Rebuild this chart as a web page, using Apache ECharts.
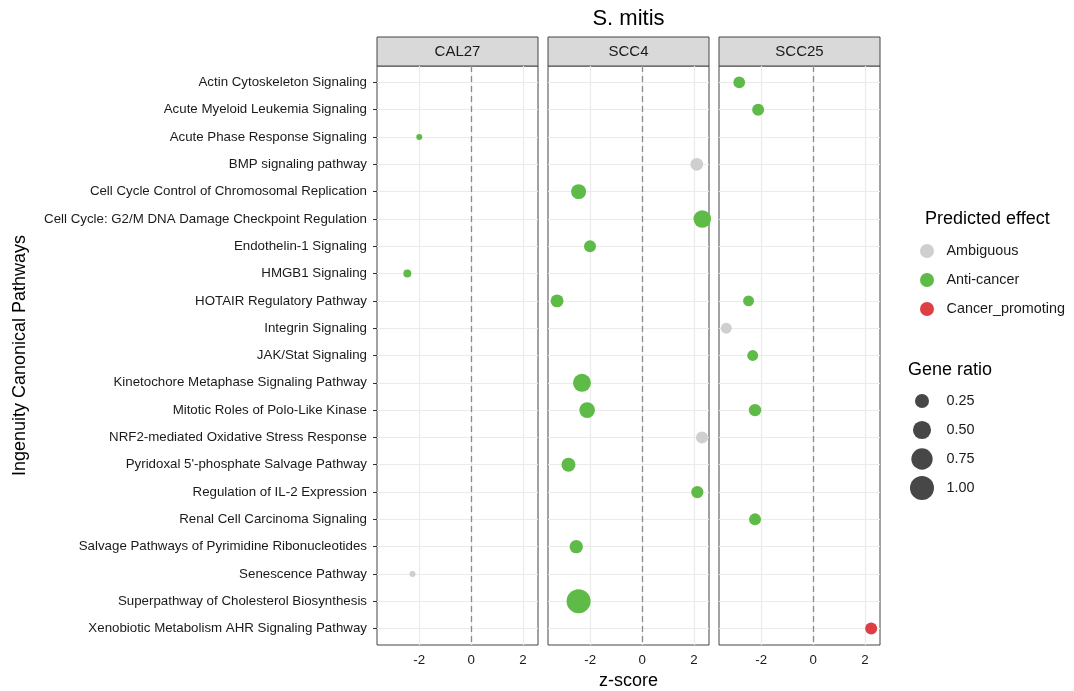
<!DOCTYPE html>
<html><head><meta charset="utf-8">
<script src="https://cdn.jsdelivr.net/npm/echarts@6/dist/echarts.min.js"></script>
<style>html,body{margin:0;padding:0;background:#fff}#c{width:1074px;height:691px}</style>
</head><body><div id="c"></div><script>
// ---------- data ----------
const pathways = [
  "Actin Cytoskeleton Signaling",
  "Acute Myeloid Leukemia Signaling",
  "Acute Phase Response Signaling",
  "BMP signaling pathway",
  "Cell Cycle Control of Chromosomal Replication",
  "Cell Cycle: G2/M DNA Damage Checkpoint Regulation",
  "Endothelin-1 Signaling",
  "HMGB1 Signaling",
  "HOTAIR Regulatory Pathway",
  "Integrin Signaling",
  "JAK/Stat Signaling",
  "Kinetochore Metaphase Signaling Pathway",
  "Mitotic Roles of Polo-Like Kinase",
  "NRF2-mediated Oxidative Stress Response",
  "Pyridoxal 5'-phosphate Salvage Pathway",
  "Regulation of IL-2 Expression",
  "Renal Cell Carcinoma Signaling",
  "Salvage Pathways of Pyrimidine Ribonucleotides",
  "Senescence Pathway",
  "Superpathway of Cholesterol Biosynthesis",
  "Xenobiotic Metabolism AHR Signaling Pathway"
];
const panels = ["CAL27", "SCC4", "SCC25"];
const effects = ["Ambiguous", "Anti-cancer", "Cancer_promoting"];
const effectColors = ["#CFCFCF", "#5FBB47", "#DE3F44"];
const xTicks = [-2, 0, 2];
const ratioLegend = [0.25, 0.50, 0.75, 1.00];
const ratioLegendLabels = ["0.25", "0.50", "0.75", "1.00"];

const cal27Pathways = ["Acute Phase Response Signaling", "HMGB1 Signaling", "Senescence Pathway"];
const cal27Z        = [-2.00, -2.46, -2.26];
const cal27Ratio    = [0.01, 0.04, 0.01];
const cal27Effect   = ["Anti-cancer", "Anti-cancer", "Ambiguous"];

const scc4Pathways = [
  "BMP signaling pathway", "Cell Cycle Control of Chromosomal Replication",
  "Cell Cycle: G2/M DNA Damage Checkpoint Regulation", "Endothelin-1 Signaling",
  "HOTAIR Regulatory Pathway", "Kinetochore Metaphase Signaling Pathway",
  "Mitotic Roles of Polo-Like Kinase", "NRF2-mediated Oxidative Stress Response",
  "Pyridoxal 5'-phosphate Salvage Pathway", "Regulation of IL-2 Expression",
  "Salvage Pathways of Pyrimidine Ribonucleotides", "Superpathway of Cholesterol Biosynthesis"
];
const scc4Z      = [2.11, -2.45, 2.32, -2.01, -3.28, -2.32, -2.12, 2.31, -2.84, 2.13, -2.54, -2.45];
const scc4Ratio  = [0.19, 0.30, 0.46, 0.16, 0.20, 0.49, 0.34, 0.16, 0.25, 0.17, 0.22, 1.00];
const scc4Effect = ["Ambiguous", "Anti-cancer", "Anti-cancer", "Anti-cancer", "Anti-cancer", "Anti-cancer",
                    "Anti-cancer", "Ambiguous", "Anti-cancer", "Anti-cancer", "Anti-cancer", "Anti-cancer"];

const scc25Pathways = [
  "Actin Cytoskeleton Signaling", "Acute Myeloid Leukemia Signaling", "HOTAIR Regulatory Pathway",
  "Integrin Signaling", "JAK/Stat Signaling", "Mitotic Roles of Polo-Like Kinase",
  "Renal Cell Carcinoma Signaling", "Xenobiotic Metabolism AHR Signaling Pathway"
];
const scc25Z      = [-2.85, -2.12, -2.49, -3.35, -2.33, -2.24, -2.24, 2.24];
const scc25Ratio  = [0.15, 0.16, 0.12, 0.12, 0.12, 0.18, 0.16, 0.16];
const scc25Effect = ["Anti-cancer", "Anti-cancer", "Anti-cancer", "Ambiguous", "Anti-cancer",
                     "Anti-cancer", "Anti-cancer", "Cancer_promoting"];

const panelData = [
  [cal27Pathways, cal27Z, cal27Ratio, cal27Effect],
  [scc4Pathways, scc4Z, scc4Ratio, scc4Effect],
  [scc25Pathways, scc25Z, scc25Ratio, scc25Effect]
];

// ---------- layout ----------
const FONT = "'Liberation Sans', Arial, sans-serif";
const GRID_TOP = 66, GRID_H = 579, GRID_W = 161;
const GRID_LEFTS = [377, 548, 719];
const STRIP_TOP = 37;
const BORDER = "#444444";
const GRIDLINE = "#EBEBEB";
const sizeOf = r => 4 + 20 * Math.sqrt(r);

const chart = echarts.init(document.getElementById('c'), null, {renderer: 'canvas'});

const grids = [], xAxes = [], yAxes = [], series = [], graphics = [];
const yIdx = pathways.map((_, i) => i);

panels.forEach((p, g) => {
  grids.push({left: GRID_LEFTS[g], top: GRID_TOP, width: GRID_W, height: GRID_H,
    show: true, borderColor: BORDER, borderWidth: 1, backgroundColor: 'transparent',
    containLabel: false, outerBoundsMode: 'none'});
  xAxes.push({
    type: 'value', gridIndex: g, min: -3.63, max: 2.58, position: 'bottom',
    axisLine: {show: false, onZero: false},
    axisTick: {show: false, customValues: xTicks},
    axisLabel: {customValues: xTicks, color: '#1a1a1a', fontFamily: FONT, fontSize: 13.3, margin: 9,
      formatter: v => String(v)},
    splitLine: {show: true, lineStyle: {color: GRIDLINE, width: 1.2}},
    name: g === 1 ? 'z-score' : '', nameLocation: 'middle', nameGap: 25,
    nameTextStyle: {fontFamily: FONT, fontSize: 18, color: '#000'}
  });
  yAxes.push({
    type: 'value', gridIndex: g, min: -0.6, max: 20.6, inverse: true, position: 'left',
    axisLine: {show: false, onZero: false},
    axisTick: {show: g === 0, customValues: yIdx, length: 4, lineStyle: {color: '#333'}},
    axisLabel: {show: g === 0, customValues: yIdx, color: '#1a1a1a', fontFamily: FONT, fontSize: 13.3,
      margin: 10, formatter: v => pathways[Math.round(v)]},
    splitLine: {show: true, lineStyle: {color: GRIDLINE, width: 1.2}},
    name: g === 0 ? 'Ingenuity Canonical Pathways' : '', nameLocation: 'middle', nameGap: 348,
    nameRotate: 90, nameTextStyle: {fontFamily: FONT, fontSize: 18, color: '#000'}
  });
  // dashed zero line
  series.push({
    type: 'scatter', xAxisIndex: g, yAxisIndex: g, data: [], name: 'zero' + g, silent: true,
    markLine: {silent: true, symbol: 'none', label: {show: false},
      lineStyle: {color: '#8C8C8C', type: [6, 4], width: 1.3},
      data: [{xAxis: 0}]}
  });
  const [pw, zs, rs, es] = panelData[g];
  effects.forEach((eff, e) => {
    const pts = [];
    pw.forEach((name, i) => {
      if (es[i] === eff) pts.push([zs[i], pathways.indexOf(name), rs[i]]);
    });
    series.push({
      type: 'scatter', name: eff, xAxisIndex: g, yAxisIndex: g, data: pts,
      symbol: 'circle', symbolSize: d => sizeOf(d[2]),
      itemStyle: {color: effectColors[e], opacity: 1},
      emphasis: {disabled: true}
    });
  });
  // strip
  graphics.push({type: 'rect', shape: {x: GRID_LEFTS[g], y: STRIP_TOP, width: GRID_W, height: GRID_TOP - STRIP_TOP},
    style: {fill: '#D9D9D9', stroke: BORDER, lineWidth: 1}, silent: true});
  graphics.push({type: 'text', x: GRID_LEFTS[g] + GRID_W / 2, y: (STRIP_TOP + GRID_TOP) / 2,
    style: {text: p, fill: '#1a1a1a', font: `15px ${FONT}`, textAlign: 'center', textVerticalAlign: 'middle'},
    silent: true});
});

// gene ratio legend
graphics.push({type: 'text', x: 908, y: 370,
  style: {text: 'Gene ratio', fill: '#000', font: `18px ${FONT}`, textAlign: 'left', textVerticalAlign: 'middle'}});
ratioLegend.forEach((r, i) => {
  const cy = 401 + i * 29;
  graphics.push({type: 'circle', shape: {cx: 922, cy: cy, r: sizeOf(r) / 2}, style: {fill: '#474747'}, silent: true});
  graphics.push({type: 'text', x: 946.5, y: cy,
    style: {text: ratioLegendLabels[i], fill: '#1a1a1a', font: `14.4px ${FONT}`, textAlign: 'left', textVerticalAlign: 'middle'}});
});
graphics.push({type: 'text', x: 925, y: 219,
  style: {text: 'Predicted effect', fill: '#000', font: `18px ${FONT}`, textAlign: 'left', textVerticalAlign: 'middle'}});

chart.setOption({
  animation: false,
  backgroundColor: '#fff',
  title: {text: 'S. mitis', left: 628.5, top: 8, padding: 0, textAlign: 'center',
    textStyle: {fontFamily: FONT, fontSize: 22, fontWeight: 'normal', color: '#000'}},
  legend: {
    data: effects, orient: 'vertical', left: 915, top: 239, itemWidth: 14, itemHeight: 14, itemGap: 15,
    icon: 'circle', selectedMode: false,
    textStyle: {fontFamily: FONT, fontSize: 14.4, color: '#1a1a1a', lineHeight: 14, padding: [0, 0, 0, 7.5]}
  },
  grid: grids, xAxis: xAxes, yAxis: yAxes, series: series, graphic: graphics
});
</script></body></html>
